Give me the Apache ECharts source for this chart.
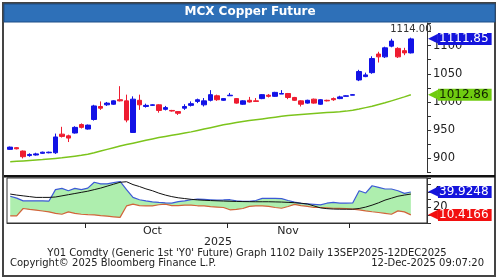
<!DOCTYPE html>
<html>
<head>
<meta charset="utf-8">
<script src="https://cdn.jsdelivr.net/npm/echarts@6/dist/echarts.min.js"></script>
<style>
  html, body { margin: 0; padding: 0; background: #fff; }
  #chart { width: 500px; height: 280px; }
</style>
</head>
<body>
<div id="chart"></div>
<script>
// trading days 15 Sep - 12 Dec 2025 (MM-DD)
const dates = [
  '09-15', '09-16', '09-17', '09-18', '09-19', '09-22', '09-23', '09-24', '09-25', '09-26', '09-29', '09-30',
  '10-01', '10-03', '10-06', '10-07', '10-08', '10-09', '10-10', '10-13', '10-14', '10-15', '10-16', '10-17',
  '10-20', '10-21', '10-22', '10-23', '10-24', '10-27', '10-28', '10-29', '10-30', '10-31',
  '11-03', '11-04', '11-06', '11-07', '11-10', '11-11', '11-12', '11-13', '11-14', '11-17', '11-18', '11-19',
  '11-20', '11-21', '11-24', '11-25', '11-26', '11-27', '11-28',
  '12-01', '12-02', '12-03', '12-04', '12-05', '12-08', '12-09', '12-10', '12-11', '12-12'
]

const open = [
  916, 919, 913, 905, 906, 909, 910, 910, 943, 940, 945, 960, 952, 969, 992, 995, 996, 1004, 1002, 946,
  1003, 992, 994, 995, 987, 985, 983, 989, 994, 1001, 995, 1003, 1011, 1003, 1011, 1006, 996, 1003, 1002, 1006,
  1012, 1010, 1014, 1015, 1008, 1002, 998, 1005, 996, 1003, 1006, 1006, 1010, 1012, 1039, 1045, 1052, 1085, 1080, 1099,
  1095, 1091, 1087
]
const close = [
  920, 917, 903, 907, 908, 911, 911, 938, 939, 936, 955, 955, 959, 993, 989, 998, 1002, 1002, 968, 1005,
  995, 994, 995, 985, 990, 984, 980, 992, 997, 1004, 1002, 1013, 1004, 1006, 1012, 998, 1002, 1000, 1001, 1013,
  1010, 1017, 1015, 1008, 1003, 996, 1003, 998, 1004, 1002, 1004, 1009, 1011, 1013, 1054, 1048, 1077, 1080, 1096, 1108,
  1080, 1087, 1111.85
]
const low = [
  915, 916, 900, 903, 905, 908, 909, 908, 937, 929, 944, 953, 951, 967, 986, 993, 995, 1001, 964, 945,
  986, 990, 993, 981, 985, 983, 977, 986, 992, 998, 992, 1001, 1002, 1002, 1011, 997, 995, 999, 1001, 1005,
  1008, 1009, 1014, 1005, 1002, 992, 997, 997, 995, 1001, 1002, 1005, 1010, 1012, 1037, 1044, 1050, 1070, 1078, 1097,
  1078, 1083, 1086
]
const high = [
  921, 920, 914, 909, 910, 912, 912, 944, 956, 942, 957, 962, 960, 995, 1001, 1000, 1003, 1028, 1013, 1010,
  1013, 997, 996, 996, 993, 986, 984, 996, 1001, 1006, 1007, 1021, 1013, 1007, 1016, 1007, 1003, 1009, 1007, 1014,
  1014, 1018, 1021, 1016, 1009, 1003, 1004, 1006, 1005, 1004, 1008, 1011, 1012, 1014, 1057, 1052, 1081, 1089, 1098, 1112,
  1097, 1096, 1114
]

// long moving average (green)
const movingAvg = [
  894, 894.8, 895.6, 896.4, 897.2, 898, 899, 900, 901, 902.5, 904, 905.5, 907.5, 910, 913, 916, 919, 922, 924.5, 927,
  929.5, 932, 934.5, 937, 939, 941, 943, 945, 947, 949.5, 952, 954.5, 957, 959.5, 961.5, 963.5, 965.5, 967, 968.5, 970,
  971.5, 973, 974.5, 976, 977, 978, 978.8, 979.6, 980.4, 981.2, 982, 982.8, 983.8, 985.5, 987.5, 990, 992.5, 995.5, 998.5, 1002,
  1005.5, 1009, 1012.86
]

// lower study panel
const diPlus = [
  34.5, 32, 28.5, 28.6, 28.6, 28.6, 28.3, 43, 44.7, 41.6, 44.7, 43, 45, 52.5, 50.5, 50.5, 52, 53.5, 43, 33,
  30, 28.5, 27.3, 26.5, 26, 25.6, 27.5, 28.5, 30, 30.8, 30.5, 30, 29.5, 29.7, 30, 28.5, 27.8, 27.8, 29, 31.7,
  31.7, 31.7, 31.5, 29, 27, 25.2, 24.6, 24, 23.4, 25.5, 26.5, 25.6, 25.6, 25.8, 41.6, 38.6, 48, 46, 43.8, 43.8,
  41.6, 38.2, 39.9248
]
const diMinus = [
  9.1, 9.1, 18.7, 17.5, 16.5, 15.5, 14.3, 12.5, 11.3, 14.3, 12.5, 11.3, 10.8, 10.4, 9.5, 8.8, 8, 7.2, 22, 24.3,
  22.5, 22, 22, 23.5, 24.3, 22.5, 22.5, 23, 23, 22.2, 22, 21, 20.5, 20, 17, 17.5, 18.7, 21.5, 22, 22,
  21.5, 20, 19, 21.3, 24, 22.5, 21.5, 20, 20, 19.5, 19, 18.8, 18.5, 17.8, 17, 15.6, 14.5, 13.5, 12.5, 11.3,
  15.6, 14.3, 10.4166
]
const adx = [
  37.3, 36, 35, 34, 33, 33, 33, 33.5, 35, 36.5, 38, 39.5, 41, 43, 45, 47.5, 50, 52.5, 53.2, 49.5,
  47, 44, 41.6, 38.5, 36, 34, 32.5, 31.5, 30.5, 29.8, 29.3, 28.9, 28.6, 28.3, 28, 27.8, 27.6, 27.5, 27.4, 27.4,
  27.4, 27.2, 27, 26.6, 26.2, 25.5, 24.5, 22, 19.5, 18.5, 18, 17.8, 17.8, 17.8, 18.7, 20.5, 23, 26, 29.5, 32,
  34.5, 36, 37.3
]

const monthNames = { '09': 'Sep', '10': 'Oct', '11': 'Nov', '12': 'Dec' }
const labelledMonths = ['10', '11']
const yearLabel = '2025'

const FONT = '"DejaVu Sans", Verdana, sans-serif'
const TEXT = '#222'

// month boundaries get a tick ('-' elsewhere), full months get a centred label
const monthTickData = dates.map((d, i) =>
  i > 0 && d.slice(0, 2) !== dates[i - 1].slice(0, 2) ? 0 : '-'
)
const labelIdx = {}
labelledMonths.forEach((m) => {
  const idx = dates.map((d, i) => (d.startsWith(m) ? i : -1)).filter((i) => i >= 0)
  labelIdx[idx[Math.floor((idx.length - 1) / 2)]] = monthNames[m]
})

const last = dates.length - 1
const candleData = dates.map((_, i) => [open[i], close[i], low[i], high[i]])
const bandData = diPlus.map((v, i) => +(v - diMinus[i]).toFixed(4))

function valueTag(value, bg, fg) {
  return {
    silent: true,
    symbol: 'none',
    animation: false,
    z: 10,
    lineStyle: { color: 'rgba(0,0,0,0)', width: 0 },
    emphasis: { disabled: true },
    label: {
      show: true,
      position: 'end',
      distance: 1,
      formatter: '{a|◀}{b|' + value + '}',
      rich: {
        a: { color: bg, fontSize: 13, fontFamily: FONT, lineHeight: 14 },
        b: {
          backgroundColor: bg,
          color: fg,
          fontSize: 12,
          fontFamily: FONT,
          lineHeight: 14,
          padding: [0, 3, 0, 1],
        },
      },
    },
    data: [{ yAxis: value }],
  }
}

const chart = echarts.init(document.getElementById('chart'))

const option = {
  animation: false,
  title: {
    text: 'MCX Copper Future',
    left: 'center',
    top: 6,
    padding: 0,
    textStyle: { color: '#fff', fontSize: 12, fontWeight: 'bold', fontFamily: FONT },
  },
  graphic: [
    {
      type: 'rect',
      z: -1,
      shape: { x: 3, y: 3, width: 492, height: 273 },
      style: { fill: 'none', stroke: '#444', lineWidth: 2 },
    },
    {
      type: 'rect',
      z: -1,
      shape: { x: 4, y: 4, width: 491, height: 18 },
      style: { fill: '#2e70b8', stroke: '#1d4f88', lineWidth: 1 },
    },
    {
      type: 'rect',
      shape: { x: 4, y: 175, width: 491, height: 2.5 },
      style: { fill: '#111' },
    },
    {
      type: 'text',
      x: 218, y: 242,
      style: { text: yearLabel, fill: TEXT, font: '11px ' + FONT, textAlign: 'center', textVerticalAlign: 'middle' },
    },
    {
      type: 'text',
      x: 247, y: 253,
      style: {
        text: "Y01 Comdty (Generic 1st 'Y0' Future) Graph 1102 Daily 13SEP2025-12DEC2025",
        fill: TEXT, font: '10px ' + FONT, textAlign: 'center', textVerticalAlign: 'middle',
      },
    },
    {
      type: 'text',
      x: 10, y: 263.5,
      style: {
        text: 'Copyright\u00a9 2025 Bloomberg Finance L.P.',
        fill: TEXT, font: '10px ' + FONT, textAlign: 'left', textVerticalAlign: 'middle',
      },
    },
    {
      type: 'text',
      x: 484, y: 263.5,
      style: {
        text: '12-Dec-2025 09:07:20',
        fill: TEXT, font: '10px ' + FONT, textAlign: 'right', textVerticalAlign: 'middle',
      },
    },
  ],
  grid: [
    { left: 7, right: 73, top: 23, height: 149.5 },
    { left: 7, right: 73, top: 178, height: 45, show: true, borderColor: '#333', borderWidth: 1 },
  ],
  xAxis: [
    {
      type: 'category',
      gridIndex: 0,
      data: dates,
      max: dates.length + 1,
      axisLine: { show: false },
      axisTick: { show: false },
      axisLabel: { show: false },
      splitLine: { show: false },
    },
    {
      type: 'category',
      gridIndex: 1,
      data: dates,
      max: dates.length + 1,
      axisLine: { show: true, lineStyle: { color: '#333' } },
      axisTick: { show: false },
      axisLabel: {
        show: true,
        interval: (i) => i in labelIdx,
        formatter: (v, i) => labelIdx[i] || '',
        margin: 3,
        color: TEXT,
        fontSize: 11,
        fontFamily: FONT,
      },
      splitLine: { show: false },
    },
  ],
  yAxis: [
    {
      type: 'value',
      gridIndex: 0,
      position: 'right',
      min: 875,
      max: 1140,
      interval: 25,
      axisLine: { show: true, lineStyle: { color: '#333' } },
      axisTick: { show: true, length: 4, lineStyle: { color: '#333' } },
      axisLabel: {
        formatter: (v) => (v % 50 === 0 ? String(v) : ''),
        margin: 6,
        color: TEXT,
        fontSize: 11.5,
        fontFamily: FONT,
      },
      splitLine: { show: false },
    },
    {
      type: 'value',
      gridIndex: 1,
      position: 'right',
      min: 0,
      max: 58,
      interval: 10,
      axisLine: { show: true, lineStyle: { color: '#333' } },
      axisTick: { show: true, length: 4, lineStyle: { color: '#333' } },
      axisLabel: {
        formatter: (v) => (v === 20 || v === 40 ? String(v) : ''),
        margin: 6,
        color: TEXT,
        fontSize: 11.5,
        fontFamily: FONT,
      },
      splitLine: { show: false },
    },
  ],
  series: [
    {
      name: 'Price',
      type: 'candlestick',
      xAxisIndex: 0,
      yAxisIndex: 0,
      data: candleData,
      barWidth: 5,
      itemStyle: {
        color: '#1212e6',
        color0: '#ee1c30',
        borderColor: '#1212e6',
        borderColor0: '#ee1c30',
        borderWidth: 1,
      },
      markPoint: {
        silent: true,
        symbol: 'circle',
        symbolSize: 0,
        z: 1,
        label: {
          show: true,
          position: 'top',
          distance: 3,
          formatter: Math.max(...high).toFixed(2),
          color: '#333',
          fontSize: 10,
          fontFamily: FONT,
        },
        data: [{ coord: [last, Math.max(...high)] }],
      },
      markLine: valueTag(close[last], '#1414dc', '#fff'),
    },
    {
      name: 'MA',
      type: 'line',
      xAxisIndex: 0,
      yAxisIndex: 0,
      data: movingAvg,
      symbol: 'none',
      lineStyle: { color: '#7cc41c', width: 1.5 },
      markLine: valueTag(movingAvg[last], '#6fcb10', '#102000'),
    },
    {
      name: 'base',
      type: 'line',
      xAxisIndex: 1,
      yAxisIndex: 1,
      stack: 'band',
      stackStrategy: 'all',
      data: diMinus,
      symbol: 'none',
      lineStyle: { opacity: 0 },
      silent: true,
    },
    {
      name: 'band',
      type: 'line',
      xAxisIndex: 1,
      yAxisIndex: 1,
      stack: 'band',
      stackStrategy: 'all',
      data: bandData,
      symbol: 'none',
      lineStyle: { opacity: 0 },
      areaStyle: { color: '#aeeeae', opacity: 1 },
      silent: true,
    },
    {
      name: 'DMI-',
      type: 'line',
      xAxisIndex: 1,
      yAxisIndex: 1,
      data: diMinus,
      symbol: 'none',
      lineStyle: { color: '#d2643a', width: 1.2 },
      markLine: valueTag(diMinus[last], '#f21010', '#fff'),
    },
    {
      name: 'DMI+',
      type: 'line',
      xAxisIndex: 1,
      yAxisIndex: 1,
      data: diPlus,
      symbol: 'none',
      lineStyle: { color: '#3d5ad6', width: 1.2 },
      markLine: valueTag(diPlus[last], '#1414dc', '#fff'),
    },
    {
      name: 'ADX',
      type: 'line',
      xAxisIndex: 1,
      yAxisIndex: 1,
      data: adx,
      symbol: 'none',
      lineStyle: { color: '#111', width: 1 },
    },
    {
      // month boundary ticks under the study panel
      name: 'monthTicks',
      type: 'custom',
      xAxisIndex: 1,
      yAxisIndex: 1,
      silent: true,
      clip: false,
      data: monthTickData,
      renderItem: (params, api) => {
        const v = api.value(1)
        if (v === '-' || v == null || isNaN(v)) return null
        const p = api.coord([api.value(0), v])
        const band = api.size([1, 0])[0]
        const x = Math.round(p[0] - band / 2) + 0.5
        return {
          type: 'line',
          shape: { x1: x, y1: p[1], x2: x, y2: p[1] + 5 },
          style: { stroke: '#222', lineWidth: 1 },
        }
      },
    },
  ],
}

chart.setOption(option)
</script>
</body>
</html>
